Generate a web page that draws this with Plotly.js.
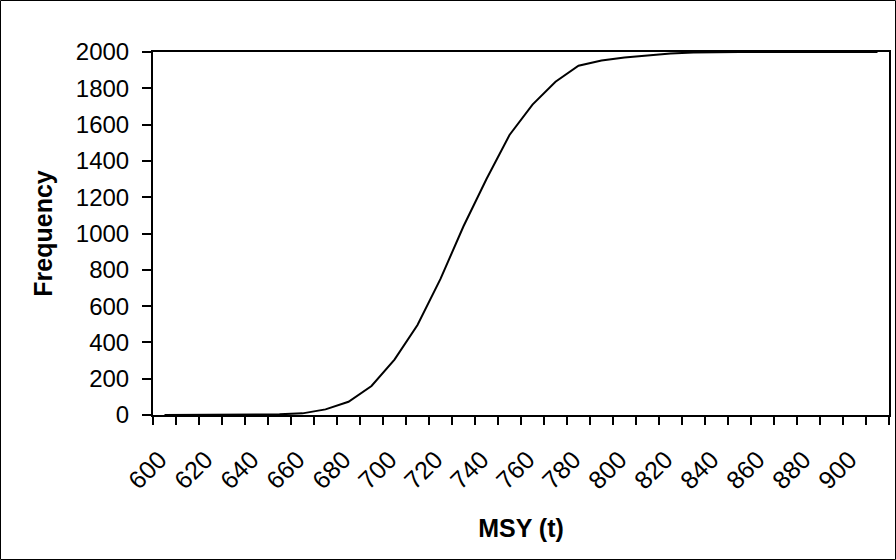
<!DOCTYPE html>
<html>
<head>
<meta charset="utf-8">
<script src="https://cdn.plot.ly/plotly-3.0.1.min.js"></script>
<style>
html,body{margin:0;padding:0;background:#fff;}
#chart{width:896px;height:560px;}
</style>
</head>
<body>
<div id="chart"></div>
<script>
// Data
var msy = [600,610,620,630,640,650,660,670,680,690,700,710,720,730,740,750,760,770,780,790,800,810,820,830,840,850,860,870,880,890,900,910];
var frequency = [0,0,0,0,0,4,9,31,73,160,305,496,750,1040,1300,1543,1710,1836,1924,1953,1970,1983,1992,1997,2000,2000,2000,2000,2000,2000,2000,2000];
var xLabelVals = [600,620,640,660,680,700,720,740,760,780,800,820,840,860,880,900];
var xLabelText = ['600','620','640','660','680','700','720','740','760','780','800','820','840','860','880','900'];
var yTickVals = [0,200,400,600,800,1000,1200,1400,1600,1800,2000];

var L = 153, R = 889, T = 52, B = 415, W = 896, H = 560;
var pw = R - L, ph = B - T;

var trace = {
  x: msy, y: frequency, type: 'scatter', mode: 'lines',
  line: {color: '#000', width: 2},
  hoverinfo: 'skip'
};

var layout = {
  width: W, height: H,
  margin: {l: L, r: W - R, t: T, b: H - B},
  paper_bgcolor: '#fff', plot_bgcolor: '#fff',
  showlegend: false,
  font: {family: 'Liberation Sans, Arial, sans-serif', size: 24, color: '#000'},
  xaxis: {
    range: [595, 915],
    tickmode: 'array', tickvals: xLabelVals, ticktext: xLabelText,
    tickangle: -45,
    ticks: 'outside', ticklen: 0,
    ticklabelstandoff: 18, ticklabelshift: -5,
    minor: {tick0: 595, dtick: 10, ticks: 'outside', ticklen: 8, tickwidth: 2, tickcolor: '#000', showgrid: false},
    showgrid: false, zeroline: false,
    showline: true, linecolor: '#000', linewidth: 2, mirror: true,
    tickfont: {size: 25},
    title: {text: '<b>MSY (t)</b>', font: {size: 25}, standoff: 26}
  },
  yaxis: {
    range: [0, 2000],
    tickmode: 'array', tickvals: yTickVals,
    ticks: 'outside', ticklen: 9, tickwidth: 2, tickcolor: '#000',
    ticklabelstandoff: 8,
    showgrid: false, zeroline: false,
    showline: true, linecolor: '#000', linewidth: 2, mirror: true,
    tickfont: {size: 24},
    title: {text: '<b>Frequency</b>', font: {size: 25}, standoff: 16}
  },
  shapes: [{
    type: 'rect', xref: 'paper', yref: 'paper',
    x0: (0.5 - L) / pw, x1: (W - 0.5 - L) / pw,
    y0: (B - (H - 0.5)) / ph, y1: (B - 0.5) / ph,
    line: {color: '#000', width: 1}, fillcolor: 'rgba(0,0,0,0)', layer: 'above'
  }]
};

Plotly.newPlot('chart', [trace], layout, {displayModeBar: false, staticPlot: true});
</script>
</body>
</html>
